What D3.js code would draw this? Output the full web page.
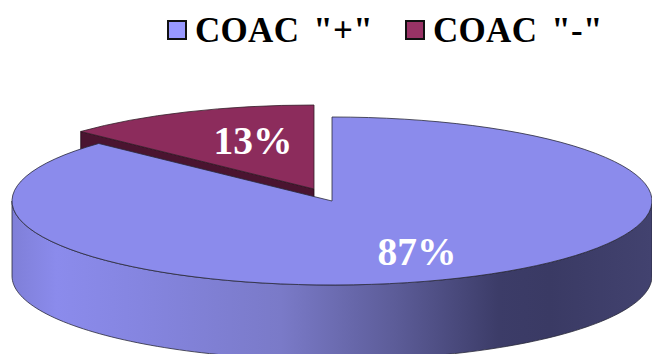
<!DOCTYPE html>
<html>
<head>
<meta charset="utf-8">
<script src="https://cdn.jsdelivr.net/npm/d3@7"></script>
<style>
html,body{margin:0;padding:0;background:#fff;}
svg{display:block;}
text{font-family:"Liberation Serif","Times New Roman",serif;font-weight:bold;}
</style>
</head>
<body>
<script>
// Share of patients by COAC status
const categories = ['COAC "+"', 'COAC "-"'];
const shares = [87, 13];
const shareLabels = ["87%", "13%"];
const swatchColors = ["#9999ff", "#993366"];
const topColors = ["#8b8bec", "#8c2c5c"];
const wallStops = [
  [0, "#7f7fd8"], [0.07, "#8b8bec"], [0.2, "#8585e0"], [0.42, "#7a7ac8"],
  [0.6, "#5c5c98"], [0.76, "#3c3c68"], [0.84, "#3a3a64"], [1, "#42426f"]
];

const width = 652, height = 354;
const rx = 320, ry = 84, depth = 75;
const cx = 332, cy = 201;
const explode = {x: -18, y: -12};
const outline = "#2a2a3a";

const svg = d3.select("body").append("svg").attr("width", width).attr("height", height);

const pie = d3.pie().sort(null).value(d => d);
const arcs = pie(shares);
const arc = d3.arc().innerRadius(0).outerRadius(rx);

// Rim point for a pie angle measured clockwise from twelve o'clock
const rim = a => [rx * Math.sin(a), -ry * Math.cos(a)];

// The wall is drawn inside the pie's translated group, so the gradient spans -rx..rx
const grad = svg.append("defs").append("linearGradient")
  .attr("id", "wall").attr("gradientUnits", "userSpaceOnUse")
  .attr("x1", -rx).attr("x2", rx).attr("y1", 0).attr("y2", 0);
grad.selectAll("stop").data(wallStops).join("stop")
  .attr("offset", d => d[0]).attr("stop-color", d => d[1]);

const flat = `scale(1,${ry / rx})`;

// Detached slice: its cut side first, then its top
const red = svg.append("g").attr("transform", `translate(${cx + explode.x},${cy + explode.y})`);
const corner = rim(arcs[1].startAngle);
red.append("path")
  .attr("d", d3.line()([[corner[0], corner[1]], [0, 0], [0, depth], [corner[0], corner[1] + depth]]) + "Z")
  .attr("fill", "#4a1430").attr("stroke", "#220a18").attr("stroke-width", 0.8);
red.append("path")
  .attr("transform", flat)
  .attr("d", arc(arcs[1]))
  .attr("fill", topColors[1]).attr("stroke", "#33202a").attr("stroke-width", 0.8)
  .attr("vector-effect", "non-scaling-stroke");

// Main slice: front wall, then top
const blue = svg.append("g").attr("transform", `translate(${cx},${cy})`);
const wallAngles = d3.range(Math.PI / 2, 3 * Math.PI / 2 + 0.001, Math.PI / 120);
const wall = d3.area()
  .x(a => rim(a)[0])
  .y0(a => rim(a)[1])
  .y1(a => rim(a)[1] + depth);
blue.append("path")
  .attr("d", wall(wallAngles))
  .attr("fill", "url(#wall)").attr("stroke", outline).attr("stroke-width", 0.8);
blue.append("path")
  .attr("transform", flat)
  .attr("d", arc(arcs[0]))
  .attr("fill", topColors[0]).attr("stroke", outline).attr("stroke-width", 0.8)
  .attr("vector-effect", "non-scaling-stroke");

// Value labels
const labelPos = [[417, 265], [253, 154]];
svg.selectAll("text.value").data(shareLabels).join("text")
  .attr("class", "value")
  .attr("x", (d, i) => labelPos[i][0]).attr("y", (d, i) => labelPos[i][1])
  .attr("text-anchor", "middle").attr("font-size", 39.5)
  .attr("fill", "#fff").text(d => d);

// Legend
const legendX = [167, 405];
const legend = svg.selectAll("g.key").data(categories).join("g")
  .attr("class", "key").attr("transform", (d, i) => `translate(${legendX[i]},0)`);
legend.append("rect")
  .attr("x", 1).attr("y", 21).attr("width", 18).attr("height", 18)
  .attr("fill", (d, i) => swatchColors[i]).attr("stroke", "#111").attr("stroke-width", 2);
legend.append("text")
  .attr("x", 28).attr("y", 42).attr("font-size", 35).attr("fill", "#000")
  .attr("word-spacing", 5).attr("letter-spacing", 0.3)
  .text(d => d);
</script>
</body>
</html>
